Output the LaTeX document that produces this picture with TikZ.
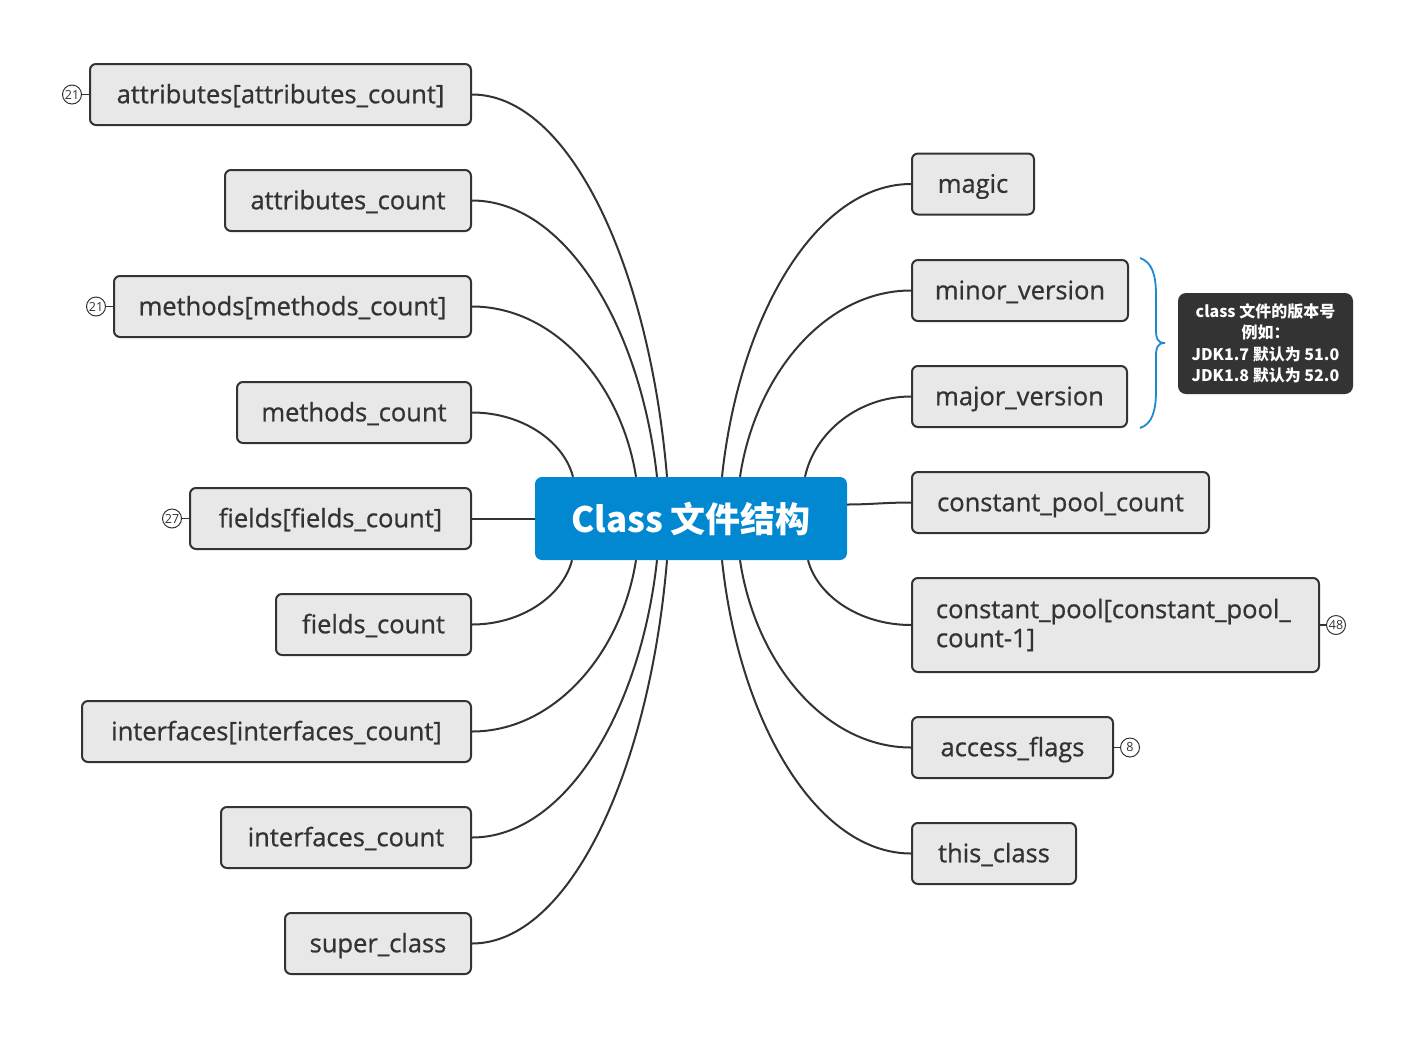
\documentclass[tikz,border=0pt]{standalone}
\usepackage{fontspec}
\setmainfont{Open Sans}
\newfontfamily\boxfont{Open Sans}[FakeBold=0.8]
\newfontfamily\cjkfont{Noto Sans CJK SC}
\usetikzlibrary{calc}
\definecolor{boxfill}{HTML}{E8E8E8}
\definecolor{boxline}{HTML}{333333}
\definecolor{mainblue}{HTML}{0288D1}
\definecolor{notefill}{HTML}{333333}
\definecolor{bracecol}{HTML}{1E88D0}
\tikzset{
  box/.style={draw=boxline, line width=2pt, fill=boxfill, rounded corners=6pt,
    minimum height=61pt, inner sep=0pt, text=boxline, text height=18.5pt, text depth=1pt,
    font=\boxfont\fontsize{25.5}{29}\selectfont},
  mainbox/.style={fill=mainblue, rounded corners=7pt, minimum width=312pt,
    minimum height=83pt, inner sep=0pt, text=white,
    font=\cjkfont\bfseries\fontsize{35}{40}\selectfont},
  notebox/.style={fill=notefill, rounded corners=8pt, minimum width=175pt,
    minimum height=101pt, inner sep=0pt, text=white, align=center,
    font=\cjkfont\bfseries\fontsize{16}{21.5}\selectfont},
  badge/.style={circle, draw=boxline, line width=1pt, fill=white, minimum size=19pt,
    inner sep=0pt, text=boxline, font=\fontsize{12.5}{12.5}\selectfont},
  conn/.style={draw=boxline, line width=2pt},
  badgeline/.style={draw=boxline, line width=1.2pt},
}
\begin{document}
\begin{tikzpicture}[x=1pt, y=-1pt]
\useasboundingbox (0,0) rectangle (1416,1037);
% centre
\node[mainbox] (c) at (691,518.5) {Class 文件结构};
% left nodes
\node[box, anchor=east, minimum width=381pt] (a1) at (472,94.5) {attributes[attributes\_count]};
\node[box, anchor=east, minimum width=246pt] (a2) at (472,200.5) {attributes\_count};
\node[box, anchor=east, minimum width=357pt] (m1) at (472,306.5) {methods[methods\_count]};
\node[box, anchor=east, minimum width=234pt] (m2) at (472,412.5) {methods\_count};
\node[box, anchor=east, minimum width=281pt] (f1) at (472,518.5) {fields[fields\_count]};
\node[box, anchor=east, minimum width=195pt] (f2) at (472,624.5) {fields\_count};
\node[box, anchor=east, minimum width=389pt] (i1) at (472,731.5) {interfaces[interfaces\_count]};
\node[box, anchor=east, minimum width=250pt] (i2) at (472,837.5) {interfaces\_count};
\node[box, anchor=east, minimum width=186pt] (s1) at (472,943.5) {super\_class};
% right nodes
\node[box, anchor=west, minimum width=122pt] (r1) at (911,184) {magic};
\node[box, anchor=west, minimum width=216pt] (r2) at (911,290.5) {minor\_version};
\node[box, anchor=west, minimum width=215pt] (r3) at (911,396.5) {major\_version};
\node[box, anchor=west, minimum width=297pt] (r4) at (911,502.5) {constant\_pool\_count};
\node[box, anchor=west, minimum width=407pt, minimum height=94pt, align=left, text width=359pt,
  text height=, text depth=]
  (r5) at (911,625) {constant\_pool[constant\_pool\_\\count-1]};
\node[box, anchor=west, minimum width=201pt] (r6) at (911,747.5) {access\_flags};
\node[box, anchor=west, minimum width=164pt] (r7) at (911,853.5) {this\_class};
% badges
\node[badge] (b1) at (72,94.5) {21};
\node[badge] (b2) at (96,306.5) {21};
\node[badge] (b3) at (172,518.5) {27};
\node[badge] (b4) at (1336,625) {48};
\node[badge] (b5) at (1130,747.5) {8};
\draw[badgeline] (b1) -- (a1.west);
\draw[badgeline] (b2) -- (m1.west);
\draw[badgeline] (b3) -- (f1.west);
\draw[badgeline] (b4) -- (r5.east);
\draw[badgeline] (b5) -- (r6.east);
% connectors left top
\draw[conn] (a1.east) .. controls (569.5,94.5) and (649.4,266.6) .. ($(c.north)+(-24,0)$);
\draw[conn] (a2.east) .. controls (564.5,200.5) and (640.3,324.9) .. ($(c.north)+(-34,0)$);
\draw[conn] (m1.east) .. controls (554,306.5) and (621.2,383.2) .. ($(c.north)+(-55,0)$);
\draw[conn] (m2.east) .. controls (522.5,412.5) and (563.9,441.5) .. ($(c.north)+(-118,0)$);
\draw[conn] (f1.east) -- (c.west);
% connectors left bottom
\draw[conn] (f2.east) .. controls (522,624.5) and (563,595.5) .. ($(c.south)+(-119,0)$);
\draw[conn] (i1.east) .. controls (554,731.5) and (621.2,654.3) .. ($(c.south)+(-55,0)$);
\draw[conn] (i2.east) .. controls (564.5,837.5) and (640.3,712.6) .. ($(c.south)+(-34,0)$);
\draw[conn] (s1.east) .. controls (569.5,943.5) and (649.4,770.9) .. ($(c.south)+(-24,0)$);
% connectors right
\draw[conn] (r1.west) .. controls (816.5,184) and (739,315.8) .. ($(c.north)+(31,0)$);
\draw[conn] (r2.west) .. controls (825.5,290.5) and (755.4,374.4) .. ($(c.north)+(49,0)$);
\draw[conn] (r3.west) .. controls (858,396.5) and (814.5,432.7) .. ($(c.north)+(114,0)$);
\draw[conn] (r4.west) .. controls (885,502.5) and (870,504.5) .. ($(c.east)+(0,-14)$);
\draw[conn] (r5.west) .. controls (859.5,625) and (817.3,595.8) .. ($(c.south)+(117,0)$);
\draw[conn] (r6.west) .. controls (825.5,747.5) and (755.4,663.1) .. ($(c.south)+(49,0)$);
\draw[conn] (r7.west) .. controls (816.5,853.5) and (739,721.4) .. ($(c.south)+(31,0)$);
% brace
\draw[bracecol, line width=1.8pt]
  (1140,258) .. controls (1152,262) and (1156,275) .. (1156,295)
  -- (1156,330) .. controls (1156,338) and (1157,343) .. (1165,343);
\draw[bracecol, line width=1.8pt]
  (1140,428) .. controls (1152,424) and (1156,411) .. (1156,391)
  -- (1156,356) .. controls (1156,348) and (1157,343) .. (1165,343);
% note
\node[notebox] (n) at (1265.5,343.5) {class 文件的版本号\\例如：\\JDK1.7 默认为 51.0\\JDK1.8 默认为 52.0};
\end{tikzpicture}
\end{document}
